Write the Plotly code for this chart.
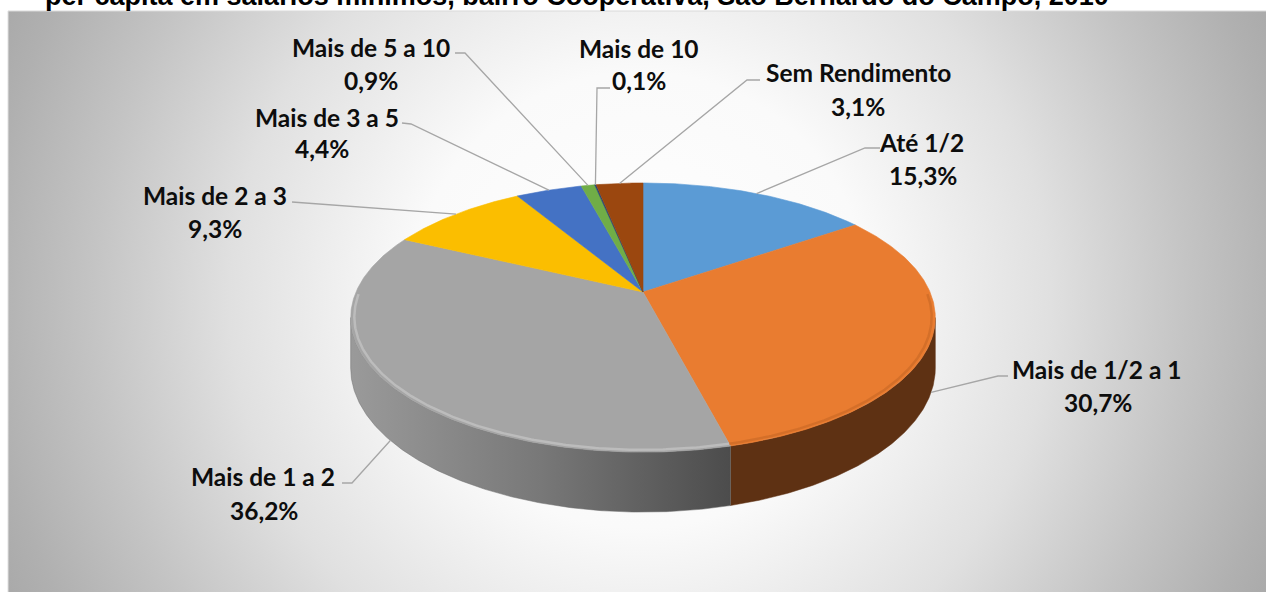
import numpy as np
import plotly.graph_objects as go

# ---------------- data ----------------
categories = ["Até 1/2", "Mais de 1/2 a 1", "Mais de 1 a 2", "Mais de 2 a 3",
              "Mais de 3 a 5", "Mais de 5 a 10", "Mais de 10", "Sem Rendimento"]
values = [15.3, 30.7, 36.2, 9.3, 4.4, 0.9, 0.1, 3.1]
title_text = "per capita em salários mínimos, bairro Cooperativa, São Bernardo do Campo, 2010"

# ---------------- styles ----------------
top_colors = ["#5B9BD5", "#E97C30", "#A5A5A5", "#FBBE00", "#4472C4", "#70AD47", "#264478", "#9B470F"]
side_colors = ["#2F5F8C", "#5E3113", "#6E6E6E", "#8A6800", "#223D70", "#3D6126", "#132342", "#562706"]
rim_colors = ["#5B9BD5", "#D06D28", "#C2C2C2", "#FBBE00", "#4472C4", "#70AD47", "#264478", "#9B470F"]

W, H = 1266, 592
L_M, T_M = 8, 11
CX, CY = 643, 292        # pie centre (px)
RAD = 287                # horizontal radius (px)
TILT = 0.452             # vertical squash
PERSP = 0.19             # perspective strength
THICK = 48.6             # pie thickness (px)
LABEL_SIZE = 24.5

# label layout (px positions of each text line) and leader-line elbows
name_xy = [(921, 142), (1097, 369), (263, 476), (215, 195), (327, 117), (371, 47), (639, 48), (858, 72)]
pct_xy = [(923, 175), (1098, 402), (264, 510), (215, 228), (322, 148), (371, 80), (639, 80), (858, 106)]
leader_tail = [[(865, 148), (880, 148)], [(998, 376), (1008, 376)], [(352, 483), (342, 483)],
               [(300, 203), (292, 202)], [(411, 124), (402, 123)], [(465, 53), (455, 53)],
               [(597, 88), (610, 88)], [(747, 80), (760, 80)]]


def proj(theta, depth=0.0, rscale=1.0):
    t = np.radians(theta)
    X = np.sin(t) * rscale
    Z = -np.cos(t) * rscale
    s = 1.0 / (1.0 - PERSP * Z)
    return CX + RAD * X * s, CY + RAD * TILT * Z * s + depth * THICK * s


total = float(sum(values))
ends = np.cumsum(values) / total * 360.0
starts = np.concatenate([[0.0], ends[:-1]])

fig = go.Figure()

# background radial gradient
BGX, BGY, BGL = 640, 300, 760
fig.add_trace(go.Scatter(
    x=[BGX - BGL, BGX + BGL, BGX + BGL, BGX - BGL, BGX - BGL],
    y=[BGY - BGL, BGY - BGL, BGY + BGL, BGY + BGL, BGY - BGL],
    mode="lines", line=dict(width=0), fill="toself",
    fillgradient=dict(type="radial", colorscale=[
        [0, "#ffffff"], [0.3, "#fafafa"], [0.54, "#e0e0e0"], [0.72, "#c4c4c4"],
        [0.86, "#b0b0b0"], [1, "#a0a0a0"]]),
    hoverinfo="skip", showlegend=False))

# side walls (front, visible part)
th1 = np.degrees(np.arccos(-PERSP))
th2 = 360.0 - th1
for i in range(len(values)):
    a, b = max(starts[i], th1), min(ends[i], th2)
    if b <= a:
        continue
    th = np.linspace(a, b, max(3, int((b - a) * 2)))
    xt, yt = proj(th, 0.0)
    xb, yb = proj(th[::-1], 1.0)
    xs = np.concatenate([xt, xb, xt[:1]])
    ys = np.concatenate([yt, yb, yt[:1]])
    kw = dict(fillcolor=side_colors[i])
    if categories[i] == "Mais de 1 a 2":
        kw = dict(fillgradient=dict(type="horizontal",
                                    colorscale=[[0, "#9a9a9a"], [0.5, "#787878"], [1, "#4c4c4c"]]))
    fig.add_trace(go.Scatter(x=xs, y=ys, mode="lines", line=dict(width=0.5, color=side_colors[i]),
                             fill="toself", hoverinfo="skip", showlegend=False, **kw))

# top faces
for i in range(len(values)):
    a, b = starts[i], ends[i]
    th = np.linspace(a, b, max(3, int((b - a) * 2)))
    xr, yr = proj(th, 0.0)
    xs = np.concatenate([[CX], xr, [CX]])
    ys = np.concatenate([[CY], yr, [CY]])
    fig.add_trace(go.Scatter(x=xs, y=ys, mode="lines", line=dict(width=0.6, color=top_colors[i]),
                             fill="toself", fillcolor=top_colors[i],
                             hoverinfo="skip", showlegend=False))

# soft bevel along the front rim
for i in range(len(values)):
    a, b = max(starts[i], th1 - 10), min(ends[i], th2 + 10)
    if b <= a:
        continue
    th = np.linspace(a, b, max(3, int((b - a) * 2)))
    xr, yr = proj(th, 0.0, 0.988)
    fig.add_trace(go.Scatter(x=xr, y=yr, mode="lines", line=dict(width=2.5, color=rim_colors[i]),
                             opacity=0.8, hoverinfo="skip", showlegend=False))

# leader lines and labels
annotations = []
for i in range(len(values)):
    mid = (starts[i] + ends[i]) / 2.0
    depth = 1.0 if th1 <= mid <= th2 else 0.0
    px, py = proj(mid, depth)
    pts = [(float(px), float(py))] + leader_tail[i]
    fig.add_trace(go.Scatter(x=[p[0] for p in pts], y=[p[1] for p in pts], mode="lines",
                             line=dict(width=1.3, color="#a6a6a6"),
                             hoverinfo="skip", showlegend=False))
    pct = f"{values[i]:.1f}".replace(".", ",") + "%"
    for txt, (tx, ty) in ((categories[i], name_xy[i]), (pct, pct_xy[i])):
        annotations.append(dict(x=tx, y=ty, xref="x", yref="y", text=f"<b>{txt}</b>",
                                showarrow=False, xanchor="center", yanchor="middle",
                                font=dict(family="Lato, Carlito, sans-serif", size=LABEL_SIZE,
                                          color="#0d0d0d")))

# title (cut at top of image as in reference)
annotations.append(dict(x=577, y=(H - (-4.0)) / (H - T_M), xref="x", yref="paper",
                        text=f"<b>{title_text}</b>", showarrow=False,
                        xanchor="center", yanchor="middle",
                        font=dict(family="Liberation Sans, Arial, sans-serif", size=27, color="#000000")))

fig.update_layout(
    width=W, height=H,
    margin=dict(l=L_M, r=0, t=T_M, b=0, pad=0),
    paper_bgcolor="white", plot_bgcolor="white",
    xaxis=dict(range=[L_M, W], visible=False, fixedrange=True),
    yaxis=dict(range=[H, T_M], visible=False, fixedrange=True),
    annotations=annotations,
    shapes=[dict(type="line", xref="paper", yref="paper", x0=0, x1=1, y0=1, y1=1,
                 line=dict(color="#d9d9d9", width=1), layer="above"),
            dict(type="line", xref="paper", yref="paper", x0=0, x1=0, y0=0, y1=1,
                 line=dict(color="#e0e0e0", width=1), layer="above")],
    showlegend=False,
)

fig.write_html("out.html", config={"displayModeBar": False},
               post_script="document.body.style.margin='0';")
